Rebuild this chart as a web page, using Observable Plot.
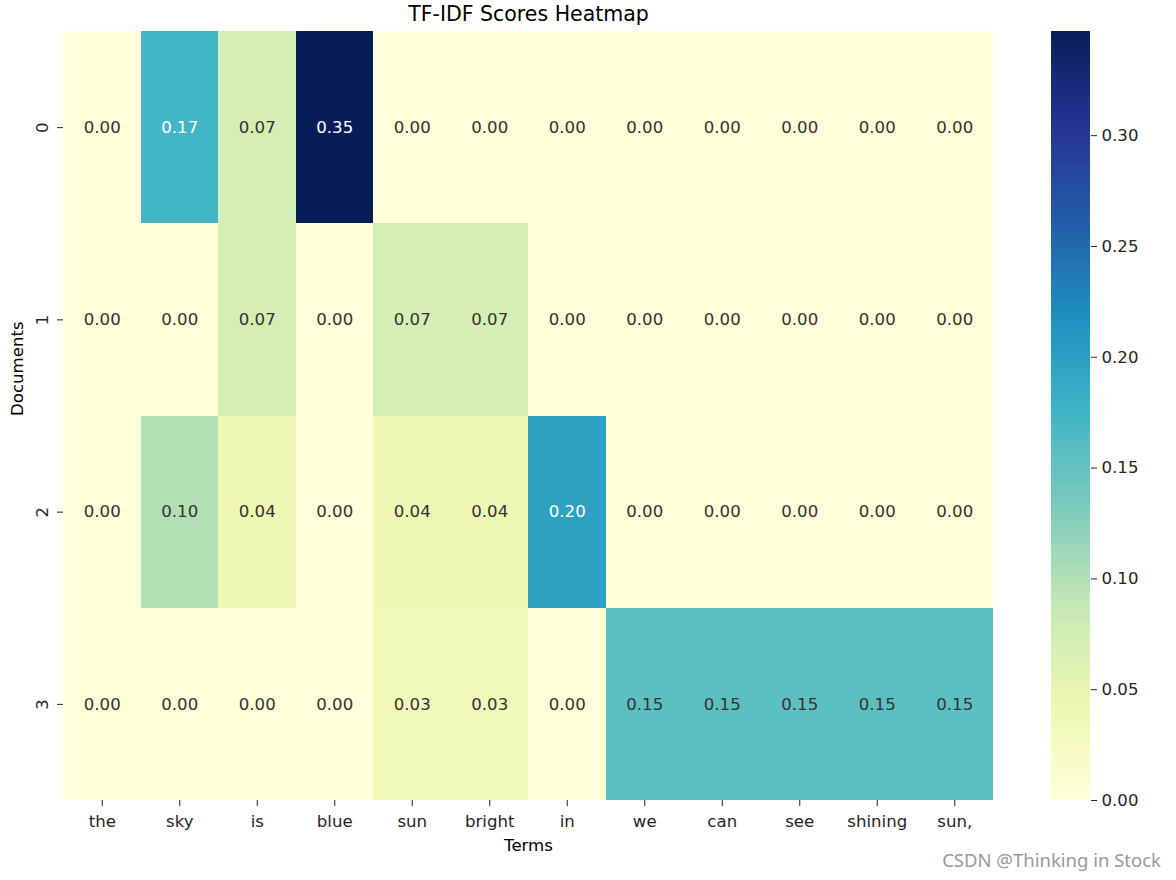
<!DOCTYPE html>
<html>
<head>
<meta charset="utf-8">
<script src="https://cdn.jsdelivr.net/npm/d3@7"></script>
<script src="https://cdn.jsdelivr.net/npm/@observablehq/plot@0.6"></script>
<style>
  html, body { margin: 0; padding: 0; background: #fff; }
  #wrap { position: relative; width: 1176px; height: 880px; overflow: hidden; font-family: "DejaVu Sans", sans-serif; }
  #main { position: absolute; left: 0; top: 0; }
  #cbar { position: absolute; left: 1051px; top: 0; }
  #wm { position: absolute; right: 15px; top: 847px; font-family: "Noto Sans", sans-serif; font-size: 18.5px; color: #9a9a9a; }
</style>
</head>
<body>
<div id="wrap">
  <div id="main"></div>
  <div id="cbar"></div>
  <div id="wm">CSDN @Thinking in Stock</div>
</div>
<script>
const terms = ["the", "sky", "is", "blue", "sun", "bright", "in", "we", "can", "see", "shining", "sun,"];
const documents = ["0", "1", "2", "3"];
const doc0 = [0, 0.173, 0.072, 0.347, 0, 0, 0, 0, 0, 0, 0, 0];
const doc1 = [0, 0, 0.072, 0, 0.072, 0.072, 0, 0, 0, 0, 0, 0];
const doc2 = [0, 0.099, 0.041, 0, 0.041, 0.041, 0.198, 0, 0, 0, 0, 0];
const doc3 = [0, 0, 0, 0, 0.032, 0.032, 0, 0.154, 0.154, 0.154, 0.154, 0.154];
const colorbarTicks = [0, 0.05, 0.10, 0.15, 0.20, 0.25, 0.30];
const ylgnbu = ["#ffffd9", "#edf8b1", "#c7e9b4", "#7fcdbb", "#41b6c4", "#1d91c0", "#225ea8", "#253494", "#081d58"];

const rows = [doc0, doc1, doc2, doc3];
const cells = [];
rows.forEach((r, i) => r.forEach((v, j) => cells.push({doc: documents[i], term: terms[j], value: v})));
const vmax = d3.max(cells, d => d.value);
const colorScale = {type: "linear", domain: ylgnbu.map((c, i) => i * vmax / (ylgnbu.length - 1)), range: ylgnbu, interpolate: "rgb"};

const fontFamily = "DejaVu Sans, sans-serif";

const main = Plot.plot({
  width: 1000,
  height: 880,
  marginLeft: 63,
  marginRight: 7,
  marginTop: 31,
  marginBottom: 80,
  style: {fontFamily, fontSize: "16.6px", color: "#262626", background: "transparent"},
  x: {domain: terms, padding: 0, round: false, label: null},
  y: {domain: documents, padding: 0, round: false, label: null},
  color: colorScale,
  marks: [
    Plot.cell(cells, {x: "term", y: "doc", fill: "value", inset: 0, shapeRendering: "crispEdges"}),
    Plot.text(cells, {
      x: "term", y: "doc",
      text: d => d.value.toFixed(2),
      fill: d => d.value > 0.16 ? "#ffffff" : "#333333",
      fontSize: 16.6
    }),
    Plot.axisX({tickSize: 6, tickPadding: 9, label: null, fontSize: 16.6, tickFormat: d => d}),
    Plot.axisY({tickSize: 6, tickPadding: 10, label: null, fontSize: 16.6, tickRotate: -90}),
    Plot.text(["TF-IDF Scores Heatmap"], {frameAnchor: "top", dy: -25, fontSize: 20.5, fill: "#000"}),
    Plot.text(["Terms"], {frameAnchor: "bottom", dy: 50, fontSize: 16.6, fill: "#000"}),
    Plot.text(["Documents"], {frameAnchor: "left", dx: -46, rotate: -90, fontSize: 16.6, fill: "#000"})
  ]
});
document.getElementById("main").appendChild(main);

const steps = d3.range(256).map(i => ({y1: i * vmax / 256, y2: (i + 1) * vmax / 256}));
const cbar = Plot.plot({
  width: 125,
  height: 880,
  marginLeft: 0,
  marginRight: 86,
  marginTop: 31,
  marginBottom: 80,
  style: {fontFamily, fontSize: "16.6px", color: "#262626", background: "transparent"},
  x: {domain: [0, 1], axis: null},
  y: {domain: [0, vmax], label: null},
  color: colorScale,
  marks: [
    Plot.rect(steps, {x1: 0, x2: 1, y1: "y1", y2: "y2", fill: d => (d.y1 + d.y2) / 2, shapeRendering: "crispEdges"}),
    Plot.axisY({anchor: "right", ticks: colorbarTicks, tickFormat: d3.format(".2f"), tickSize: 6, tickPadding: 5, label: null, fontSize: 16.6})
  ]
});
document.getElementById("cbar").appendChild(cbar);
</script>
</body>
</html>
